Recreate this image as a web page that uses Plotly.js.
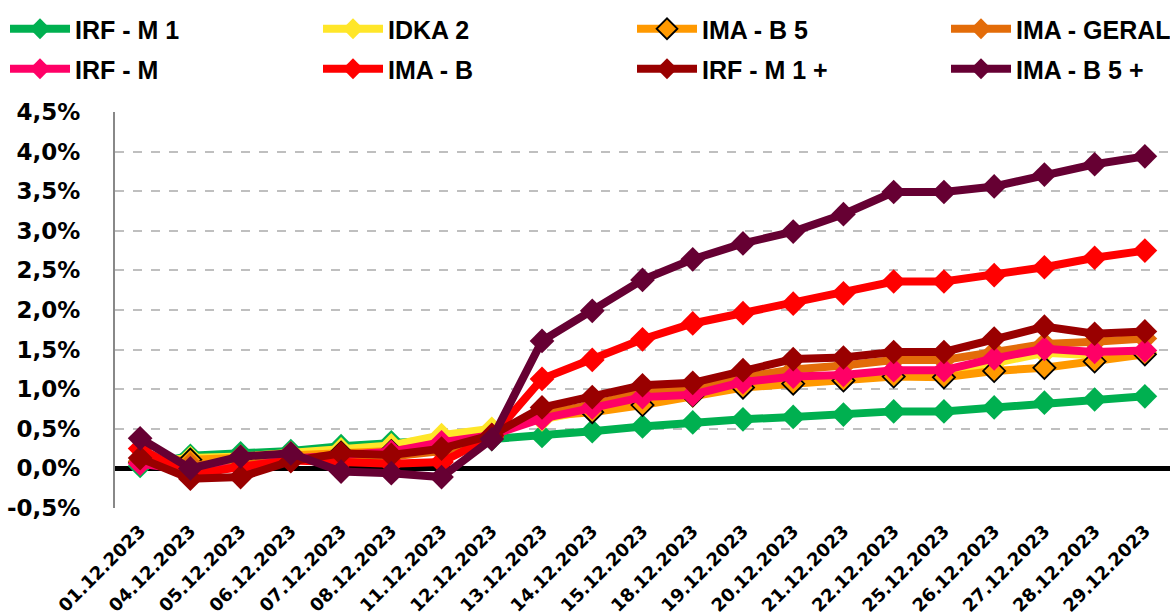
<!DOCTYPE html>
<html>
<head>
<meta charset="utf-8">
<script src="https://cdn.plot.ly/plotly-3.0.1.min.js"></script>
<style>
  html, body { margin: 0; padding: 0; background: #ffffff; }
  #chart { width: 1170px; height: 616px; }
</style>
</head>
<body>
<div id="chart"></div>
<script>
// ---- data (values in %) ----
const dates = ["01.12.2023","04.12.2023","05.12.2023","06.12.2023","07.12.2023","08.12.2023","11.12.2023","12.12.2023","13.12.2023","14.12.2023","15.12.2023","18.12.2023","19.12.2023","20.12.2023","21.12.2023","22.12.2023","25.12.2023","26.12.2023","27.12.2023","28.12.2023","29.12.2023"];

const irfM1    = [0.03, 0.16, 0.19, 0.22, 0.28, 0.33, 0.36, 0.37, 0.41, 0.47, 0.53, 0.58, 0.62, 0.65, 0.68, 0.72, 0.72, 0.77, 0.83, 0.87, 0.91];
const idka2    = [0.07, 0.13, 0.15, 0.19, 0.24, 0.29, 0.42, 0.50, 0.62, 0.74, 0.86, 0.92, 1.05, 1.12, 1.15, 1.20, 1.20, 1.33, 1.46, 1.43, 1.46];
const imaB5    = [0.08, 0.11, 0.12, 0.16, 0.20, 0.22, 0.30, 0.42, 0.66, 0.71, 0.80, 0.92, 1.02, 1.07, 1.11, 1.16, 1.15, 1.23, 1.27, 1.35, 1.44];
const imaGeral = [0.09, 0.05, 0.04, 0.13, 0.16, 0.15, 0.22, 0.40, 0.69, 0.80, 0.97, 1.00, 1.15, 1.25, 1.30, 1.37, 1.37, 1.47, 1.57, 1.60, 1.64];
const irfM     = [0.06, -0.03, 0.01, 0.12, 0.17, 0.21, 0.33, 0.42, 0.63, 0.77, 0.90, 0.93, 1.09, 1.16, 1.18, 1.24, 1.24, 1.39, 1.51, 1.47, 1.49];
const imaB     = [0.25, -0.08, 0.02, 0.10, 0.08, 0.06, 0.08, 0.40, 1.13, 1.37, 1.63, 1.83, 1.96, 2.08, 2.21, 2.36, 2.36, 2.44, 2.54, 2.66, 2.75];
const irfM1p   = [0.13, -0.13, -0.11, 0.09, 0.19, 0.17, 0.25, 0.42, 0.77, 0.90, 1.05, 1.08, 1.24, 1.38, 1.40, 1.47, 1.47, 1.64, 1.79, 1.70, 1.73];
const imaB5p   = [0.38, 0.00, 0.15, 0.19, -0.04, -0.06, -0.11, 0.37, 1.61, 1.99, 2.38, 2.64, 2.84, 2.99, 3.21, 3.49, 3.49, 3.56, 3.71, 3.84, 3.94];

const seriesNames = ["IRF - M 1", "IDKA 2", "IMA - B 5", "IMA - GERAL", "IRF - M", "IMA - B", "IRF - M 1 +", "IMA - B 5 +"];
const seriesData  = [irfM1, idka2, imaB5, imaGeral, irfM, imaB, irfM1p, imaB5p];
const seriesColors = ["#00B050", "#FFE629", "#FF9900", "#E36C09", "#FF0066", "#FF0000", "#990000", "#660033"];

const yTickVals = [-0.5, 0, 0.5, 1, 1.5, 2, 2.5, 3, 3.5, 4, 4.5];
const yTickText = yTickVals.map(v => v.toFixed(1).replace('.', ',') + '%');

// legend grid: 4 columns x 2 rows (pixel positions in the container)
const legendColX = [5, 318, 632, 946];
const legendRowTop = [6, 46];

// ---- traces ----
const traces = seriesNames.map((name, i) => {
  const isB5 = name === "IMA - B 5";
  return {
    type: 'scatter',
    mode: 'lines+markers',
    name: name,
    x: dates,
    y: seriesData[i],
    cliponaxis: false,
    legend: i === 0 ? 'legend' : 'legend' + (i + 1),
    line: { color: seriesColors[i], width: 8 },
    marker: {
      symbol: 'diamond',
      size: isB5 ? 17 : 19,
      color: seriesColors[i],
      line: { color: isB5 ? '#000000' : seriesColors[i], width: isB5 ? 1.8 : 0 }
    }
  };
});

const layout = {
  width: 1170, height: 616,
  paper_bgcolor: '#ffffff', plot_bgcolor: '#ffffff',
  margin: { l: 115, r: 0, t: 112, b: 108 },
  showlegend: true,
  xaxis: {
    type: 'category',
    range: [-0.5, dates.length - 0.5],
    showgrid: false, showline: false, zeroline: false,
    ticks: '', tickangle: -45,
    ticklabelstandoff: 8,
    tickfont: { family: 'DejaVu Sans, sans-serif', size: 18, color: '#000000', weight: 'bold' }
  },
  yaxis: {
    range: [-0.5, 4.5],
    tickvals: yTickVals, ticktext: yTickText,
    showgrid: true, gridcolor: '#BFBFBF', gridwidth: 2, griddash: 'dash',
    zeroline: true, zerolinecolor: '#000000', zerolinewidth: 5,
    showline: true, linecolor: '#888888', linewidth: 2,
    ticks: '', ticklabelstandoff: 28,
    tickfont: { family: 'DejaVu Sans, sans-serif', size: 23, color: '#000000', weight: 'bold' }
  }
};

seriesNames.forEach((name, i) => {
  const key = i === 0 ? 'legend' : 'legend' + (i + 1);
  layout[key] = {
    orientation: 'h',
    xref: 'container', yref: 'container',
    x: legendColX[i % 4] / 1170, xanchor: 'left',
    y: 1 - legendRowTop[Math.floor(i / 4)] / 616, yanchor: 'top',
    font: { family: 'Liberation Sans, Arial, sans-serif', size: 25, color: '#000000', weight: 'bold' },
    itemwidth: 60,
    bgcolor: 'rgba(0,0,0,0)'
  };
});

Plotly.newPlot('chart', traces, layout, { displayModeBar: false, staticPlot: true });
</script>
</body>
</html>
